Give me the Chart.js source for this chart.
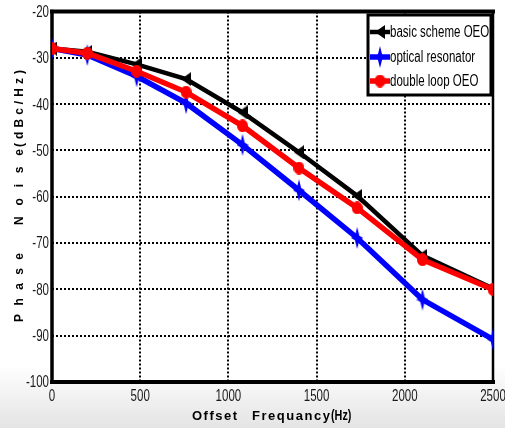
<!DOCTYPE html>
<html>
<head>
<meta charset="utf-8">
<script src="https://cdn.jsdelivr.net/npm/chart.js@4.4.1/dist/chart.umd.min.js"></script>
<style>
  html, body { margin: 0; padding: 0; }
  body {
    width: 505px; height: 428px; overflow: hidden;
    background: linear-gradient(to bottom, #fff 0, #fff 365px, #e4e4e4 428px);
  }
  #wrap { position: relative; width: 505px; height: 428px; }
</style>
</head>
<body>
<div id="wrap"><canvas id="noiseChart" width="505" height="428"></canvas></div>
<script>
// --- chart data ---
const offsetHz   = [0, 200, 480, 760, 1080, 1400, 1730, 2100, 2500];
const basicOEO   = [-28, -28.7, -31.4, -34.6, -41.8, -50.4, -59.8, -72.7, -79.8];
const opticalRes = [-28, -29.4, -34.0, -39.8, -48.8, -58.6, -68.9, -82.2, -90.8];
const doubleLoop = [-28, -29.0, -32.9, -37.4, -44.7, -53.8, -62.4, -73.6, -80.0];
const seriesNames = ['basic scheme OEO', 'optical resonator', 'double loop OEO'];
const xTicks = [0, 500, 1000, 1500, 2000, 2500];
const yTicks = [-100, -90, -80, -70, -60, -50, -40, -30, -20];

const sans = '"Liberation Sans", Arial, sans-serif';
const SQUEEZE = 0.72; // fakes Arial Narrow look of the original

// marker images (MATLAB-ish '<', star, filled circle)
function makeMarker(w, h, color, drawFn) {
  const c = document.createElement('canvas');
  c.width = w; c.height = h;
  const g = c.getContext('2d');
  g.fillStyle = color;
  g.beginPath();
  drawFn(g, w, h);
  g.fill();
  return c;
}
const triLeft = makeMarker(10, 14, '#000', (g, w, h) => {
  g.moveTo(w, 0); g.lineTo(w, h); g.lineTo(0, h / 2); g.closePath();
});
const star4 = makeMarker(12, 22, '#0000ff', (g, w, h) => {
  const cx = w / 2, cy = h / 2, r = 2.2;
  g.moveTo(cx, 0);
  g.lineTo(cx + r, cy - r);
  g.lineTo(w, cy);
  g.lineTo(cx + r, cy + r);
  g.lineTo(cx, h);
  g.lineTo(cx - r, cy + r);
  g.lineTo(0, cy);
  g.lineTo(cx - r, cy - r);
  g.closePath();
});
const dot = makeMarker(11, 13, '#ff0000', (g, w, h) => {
  g.ellipse(w / 2, h / 2, w / 2, h / 2, 0, 0, Math.PI * 2);
});

function toPoints(ys) {
  return offsetHz.map((x, i) => ({ x: x, y: ys[i] }));
}

// horizontally squeezed text
function narrowText(ctx, text, x, y, align) {
  ctx.save();
  ctx.translate(x, y);
  ctx.scale(SQUEEZE, 1);
  ctx.textAlign = align;
  ctx.fillText(text, 0, 0);
  ctx.restore();
}

// draws a string with its letters spread over [a, b] along the baseline
function spreadText(ctx, text, a, b, y) {
  const widths = [...text].map(ch => ctx.measureText(ch).width);
  const natural = widths.reduce((s, w) => s + w, 0);
  const gap = text.length > 1 ? (b - a - natural) / (text.length - 1) : 0;
  let x = a;
  [...text].forEach((ch, i) => {
    ctx.fillText(ch, x, y);
    x += widths[i] + gap;
  });
}

const decorations = {
  id: 'decorations',
  beforeDraw(chart) {
    const { ctx, chartArea: a } = chart;
    ctx.save();
    ctx.fillStyle = '#fff';
    ctx.fillRect(a.left, a.top, a.right - a.left, a.bottom - a.top);
    ctx.restore();
  },
  beforeDatasetsDraw(chart) {
    const { ctx, chartArea: a } = chart;
    ctx.save();
    ctx.strokeStyle = '#000';
    ctx.lineCap = 'square';
    const side = (x1, y1, x2, y2, w) => {
      ctx.lineWidth = w;
      ctx.beginPath(); ctx.moveTo(x1, y1); ctx.lineTo(x2, y2); ctx.stroke();
    };
    side(a.left, a.top, a.right, a.top, 4);
    side(a.left, a.top, a.left, a.bottom, 3.5);
    side(a.left, a.bottom, a.right, a.bottom, 4);
    side(a.right, a.top, a.right, a.bottom, 2.5);
    ctx.restore();
  },
  afterDraw(chart) {
    const { ctx, scales } = chart;
    ctx.save();

    // tick labels, placed by the chart's own scales
    ctx.fillStyle = '#1a1a1a';
    ctx.font = '16px ' + sans;
    ctx.textBaseline = 'middle';
    xTicks.forEach(v => {
      narrowText(ctx, String(v), scales.x.getPixelForValue(v), 397, 'center');
    });
    yTicks.forEach(v => {
      narrowText(ctx, String(v), scales.y.left + 49, scales.y.getPixelForValue(v) + 1, 'right');
    });

    // legend box
    ctx.fillStyle = '#fff';
    ctx.fillRect(368, 15, 123, 80);
    ctx.strokeStyle = '#000';
    ctx.lineWidth = 3;
    ctx.strokeRect(368, 15, 123, 80);
    const rows = [32, 57, 81];
    [0, 1, 2].forEach((di, r) => {
      const ds = chart.data.datasets[di];
      const y = rows[r];
      ctx.strokeStyle = ds.borderColor;
      ctx.lineWidth = ds.borderWidth;
      ctx.beginPath(); ctx.moveTo(370, y); ctx.lineTo(390, y); ctx.stroke();
      const img = ds.pointStyle;
      ctx.drawImage(img, 380 - img.width / 2, y - img.height / 2);
      ctx.fillStyle = '#000';
      ctx.font = '16px ' + sans;
      ctx.textBaseline = 'middle';
      narrowText(ctx, seriesNames[di], 390, y + 1, 'left');
    });

    // axis titles
    ctx.fillStyle = '#000';
    ctx.textBaseline = 'middle';
    ctx.textAlign = 'left';
    ctx.font = 'bold 13px ' + sans;
    spreadText(ctx, 'Offset', 192, 237, 416);
    spreadText(ctx, 'Frequancy', 252, 330, 416);
    ctx.font = 'bold 15px ' + sans;
    narrowText(ctx, '(Hz)', 331, 416, 'left');

    ctx.translate(20, 0);
    ctx.rotate(-Math.PI / 2);
    ctx.font = 'bold 12px ' + sans;
    spreadText(ctx, 'Phase', -322, -253, 0);
    spreadText(ctx, 'Noise', -225, -149, 0);
    spreadText(ctx, '(dBc/Hz)', -147, -70, 0);
    ctx.restore();
  }
};

const ctx = document.getElementById('noiseChart').getContext('2d');
const chart = new Chart(ctx, {
  type: 'scatter',
  data: {
    datasets: [
      { label: seriesNames[0], data: toPoints(basicOEO), showLine: true,
        borderColor: '#000000', backgroundColor: '#000000', borderWidth: 4.5,
        pointStyle: triLeft, pointRadius: 6, order: 3 },
      { label: seriesNames[1], data: toPoints(opticalRes), showLine: true,
        borderColor: '#0000ff', backgroundColor: '#0000ff', borderWidth: 5.5,
        pointStyle: star4, pointRadius: 6, order: 2 },
      { label: seriesNames[2], data: toPoints(doubleLoop), showLine: true,
        borderColor: '#ff0000', backgroundColor: '#ff0000', borderWidth: 5.5,
        pointStyle: dot, pointRadius: 6, order: 1 }
    ]
  },
  options: {
    responsive: false,
    animation: false,
    devicePixelRatio: 1,
    layout: { padding: { left: 0, right: 12, top: 11, bottom: 0 } },
    plugins: { legend: { display: false }, tooltip: { enabled: false } },
    elements: { line: { tension: 0 } },
    scales: {
      x: {
        type: 'linear', min: 0, max: 2500,
        afterBuildTicks: s => { s.ticks = xTicks.map(v => ({ value: v })); },
        afterFit: s => { s.height = 46; s.paddingLeft = 0; s.paddingRight = 0; },
        grid: { color: '#000', lineWidth: 2, drawTicks: false },
        border: { display: false, dash: [2, 2] },
        ticks: { display: false }
      },
      y: {
        type: 'linear', min: -100, max: -20,
        afterBuildTicks: s => { s.ticks = yTicks.map(v => ({ value: v })); },
        afterFit: s => { s.width = 52; s.paddingTop = 0; s.paddingBottom = 0; },
        grid: { color: '#000', lineWidth: 2, drawTicks: false },
        border: { display: false, dash: [2, 2] },
        ticks: { display: false }
      }
    }
  },
  plugins: [decorations]
});
</script>
</body>
</html>
